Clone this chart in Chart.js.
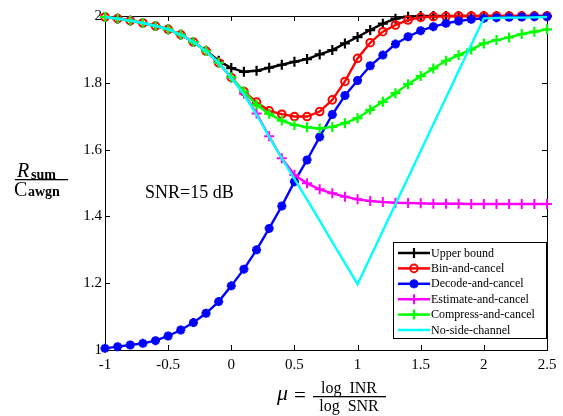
<!DOCTYPE html>
<html>
<head>
<meta charset="utf-8">
<script src="https://cdn.jsdelivr.net/npm/chart.js@4"></script>
<style>html,body{margin:0;padding:0;background:#fff}</style>
</head>
<body>
<canvas id="c" width="563" height="416"></canvas>
<script>
// mu = log INR / log SNR
const mu = [-1, -0.9, -0.8, -0.7, -0.6, -0.5, -0.4, -0.3, -0.2, -0.1, 0,
  0.1, 0.2, 0.3, 0.4, 0.5, 0.6, 0.7, 0.8, 0.9, 1,
  1.1, 1.2, 1.3, 1.4, 1.5, 1.6, 1.7, 1.8, 1.9, 2, 2.1, 2.2, 2.3, 2.4, 2.5];

const upperBound = [1.997, 1.992, 1.986, 1.979, 1.970, 1.960, 1.944, 1.922, 1.896, 1.866, 1.844,
  1.833, 1.836, 1.845, 1.854, 1.863, 1.871, 1.885, 1.898, 1.918, 1.937,
  1.958, 1.977, 1.992, 1.998, 2.0, 2.0, 2.0, 2.0, 2.0, 2.0, 2.0, 2.0, 2.0, 2.0, 2.0];
const binCancel = [1.997, 1.992, 1.986, 1.979, 1.970, 1.960, 1.944, 1.922, 1.895, 1.860, 1.816,
  1.774, 1.742, 1.716, 1.706, 1.699, 1.699, 1.714, 1.749, 1.804, 1.873,
  1.920, 1.953, 1.973, 1.988, 1.996, 1.998, 1.999, 2.0, 2.0, 2.0, 2.0, 2.0, 2.0, 2.0, 2.0];
const decodeCancel = [1.005, 1.010, 1.015, 1.020, 1.028, 1.042, 1.060, 1.082, 1.110, 1.145, 1.192,
  1.242, 1.300, 1.364, 1.431, 1.504, 1.569, 1.638, 1.705, 1.762, 1.807,
  1.851, 1.883, 1.916, 1.938, 1.956, 1.968, 1.978, 1.985, 1.990, 1.993, 1.995, 1.996, 1.997, 1.998, 1.998];
const estimateCancel = [1.997, 1.992, 1.986, 1.979, 1.970, 1.960, 1.944, 1.922, 1.895, 1.860, 1.815,
  1.768, 1.708, 1.640, 1.574, 1.524, 1.499, 1.481, 1.469, 1.459, 1.451,
  1.446, 1.443, 1.441, 1.440, 1.439, 1.438, 1.438, 1.438, 1.437, 1.437, 1.437, 1.437, 1.437, 1.437, 1.437];
const compressCancel = [1.997, 1.992, 1.986, 1.979, 1.970, 1.960, 1.944, 1.922, 1.895, 1.860, 1.816,
  1.774, 1.734, 1.707, 1.687, 1.674, 1.667, 1.663, 1.668, 1.679, 1.694,
  1.719, 1.743, 1.769, 1.796, 1.820, 1.843, 1.866, 1.883, 1.900, 1.918, 1.928, 1.936, 1.946, 1.953, 1.960];
const noSideChannel = [1.997, 1.992, 1.986, 1.979, 1.970, 1.960, 1.944, 1.922, 1.895, 1.860, 1.815,
  1.765, 1.705, 1.638, 1.574, 1.512, 1.450, 1.387, 1.323, 1.260, 1.197,
  1.277, 1.357, 1.437, 1.516, 1.596, 1.676, 1.755, 1.835, 1.914, 1.993, 1.994, 1.995, 1.995, 1.996, 1.997];

const xTicks = [-1, -0.5, 0, 0.5, 1, 1.5, 2, 2.5];
const yTicks = [1, 1.2, 1.4, 1.6, 1.8, 2];
const seriesNames = ['Upper bound', 'Bin-and-cancel', 'Decode-and-cancel',
  'Estimate-and-cancel', 'Compress-and-cancel', 'No-side-channel'];

const SERIF = '"Liberation Serif", "DejaVu Serif", serif';

function pts(vals) {
  return vals.map((v, i) => ({ x: mu[i], y: v }));
}

function line(label, vals, color, style, radius, bw, order) {
  return {
    label: label,
    data: pts(vals),
    borderColor: color,
    backgroundColor: color,
    borderWidth: 2.4,
    pointStyle: style,
    pointRadius: radius,
    pointBorderWidth: bw,
    pointBorderColor: color,
    pointBackgroundColor: style === 'circle' ? 'rgba(0,0,0,0)' : color,
    tension: 0,
    clip: false,
    order: order
  };
}

const datasets = [
  line(seriesNames[0], upperBound, '#000000', 'cross', 5, 2.2, 6),
  line(seriesNames[1], binCancel, '#ff0000', 'circle', 3.8, 2, 5),
  line(seriesNames[2], decodeCancel, '#0000ff', 'star', 4.5, 2.8, 4),
  line(seriesNames[3], estimateCancel, '#ff00ff', 'cross', 5, 2, 3),
  line(seriesNames[4], compressCancel, '#00ff00', 'cross', 5, 2.2, 2),
  line(seriesNames[5], noSideChannel, '#00ffff', false, 0, 0, 1)
];

// frame + inward ticks
const framePlugin = {
  id: 'frame',
  beforeDatasetsDraw(chart) {
    const { ctx, chartArea: a, scales } = chart;
    ctx.save();
    ctx.strokeStyle = '#000';
    ctx.lineWidth = 1;
    ctx.strokeRect(a.left + 0.5, a.top + 0.5, a.right - a.left, a.bottom - a.top);
    ctx.beginPath();
    xTicks.forEach(v => {
      const x = Math.round(scales.x.getPixelForValue(v)) + 0.5;
      ctx.moveTo(x, a.bottom); ctx.lineTo(x, a.bottom - 5);
      ctx.moveTo(x, a.top); ctx.lineTo(x, a.top + 5);
    });
    yTicks.forEach(v => {
      const y = Math.round(scales.y.getPixelForValue(v)) + 0.5;
      ctx.moveTo(a.left, y); ctx.lineTo(a.left + 5, y);
      ctx.moveTo(a.right, y); ctx.lineTo(a.right - 5, y);
    });
    ctx.stroke();
    ctx.restore();
  }
};

// legend box inside the axes + labels
const textPlugin = {
  id: 'texts',
  afterDatasetsDraw(chart) {
    const ctx = chart.ctx;
    ctx.save();
    // legend
    ctx.fillStyle = '#fff';
    ctx.fillRect(393, 242, 153, 96);
    ctx.strokeStyle = '#000';
    ctx.lineWidth = 1;
    ctx.strokeRect(393.5, 242.5, 153, 96);
    chart.data.datasets.forEach((ds, i) => {
      const y = 253 + i * 15.4;
      ctx.strokeStyle = ds.borderColor;
      ctx.lineWidth = 2.5;
      ctx.beginPath();
      ctx.moveTo(398, y); ctx.lineTo(430, y);
      ctx.stroke();
      if (ds.pointStyle) {
        ctx.fillStyle = ds.pointBackgroundColor;
        ctx.strokeStyle = ds.pointBorderColor;
        ctx.lineWidth = ds.pointBorderWidth;
        Chart.helpers.drawPoint(ctx, { pointStyle: ds.pointStyle, radius: ds.pointRadius, borderWidth: ds.pointBorderWidth, rotation: 0 }, 414, y);
      }
      ctx.fillStyle = '#000';
      ctx.font = '12px ' + SERIF;
      ctx.textBaseline = 'middle';
      ctx.textAlign = 'left';
      ctx.fillText(ds.label, 431, y + 0.5);
    });

    // annotation
    ctx.fillStyle = '#000';
    ctx.textBaseline = 'alphabetic';
    ctx.font = '18px ' + SERIF;
    ctx.fillText('SNR=15 dB', 145, 198);

    // y label: R_sum / C_awgn
    ctx.font = 'italic 20px ' + SERIF;
    ctx.fillText('R', 17, 177);
    ctx.font = 'bold 14px ' + SERIF;
    ctx.fillText('sum', 31, 179);
    ctx.fillRect(15, 179, 53, 1.3);
    ctx.font = '20px ' + SERIF;
    ctx.fillText('C', 14, 196);
    ctx.font = 'bold 14px ' + SERIF;
    ctx.fillText('awgn', 28, 196);

    // x label: mu = log INR / log SNR
    ctx.font = 'italic 22px ' + SERIF;
    ctx.fillText('\u03bc', 277, 400);
    ctx.font = '21px ' + SERIF;
    ctx.fillText('=', 294, 402);
    ctx.font = '16px ' + SERIF;
    ctx.textAlign = 'center';
    ctx.fillText('log  INR', 349, 393);
    ctx.fillRect(313, 396, 73, 1.3);
    ctx.fillText('log  SNR', 349, 411);
    ctx.restore();
  }
};

new Chart(document.getElementById('c'), {
  type: 'line',
  data: { datasets: datasets },
  options: {
    responsive: false,
    animation: false,
    layout: { padding: { top: 16, right: 16, left: 0, bottom: 0 } },
    plugins: { legend: { display: false }, tooltip: { enabled: false } },
    scales: {
      x: {
        type: 'linear', min: -1, max: 2.5,
        grid: { display: false, drawTicks: false },
        border: { display: false },
        afterBuildTicks: s => { s.ticks = xTicks.map(v => ({ value: v })); },
        afterFit: s => { s.height = 66; },
        ticks: { padding: 6, color: '#000', font: { family: SERIF, size: 15 }, callback: v => String(v) }
      },
      y: {
        type: 'linear', min: 1, max: 2,
        grid: { display: false, drawTicks: false },
        border: { display: false },
        afterBuildTicks: s => { s.ticks = yTicks.map(v => ({ value: v })); },
        afterFit: s => { s.width = 105; },
        ticks: { padding: 3, color: '#000', font: { family: SERIF, size: 15 }, callback: v => String(v) }
      }
    }
  },
  plugins: [framePlugin, textPlugin]
});
</script>
</body>
</html>
